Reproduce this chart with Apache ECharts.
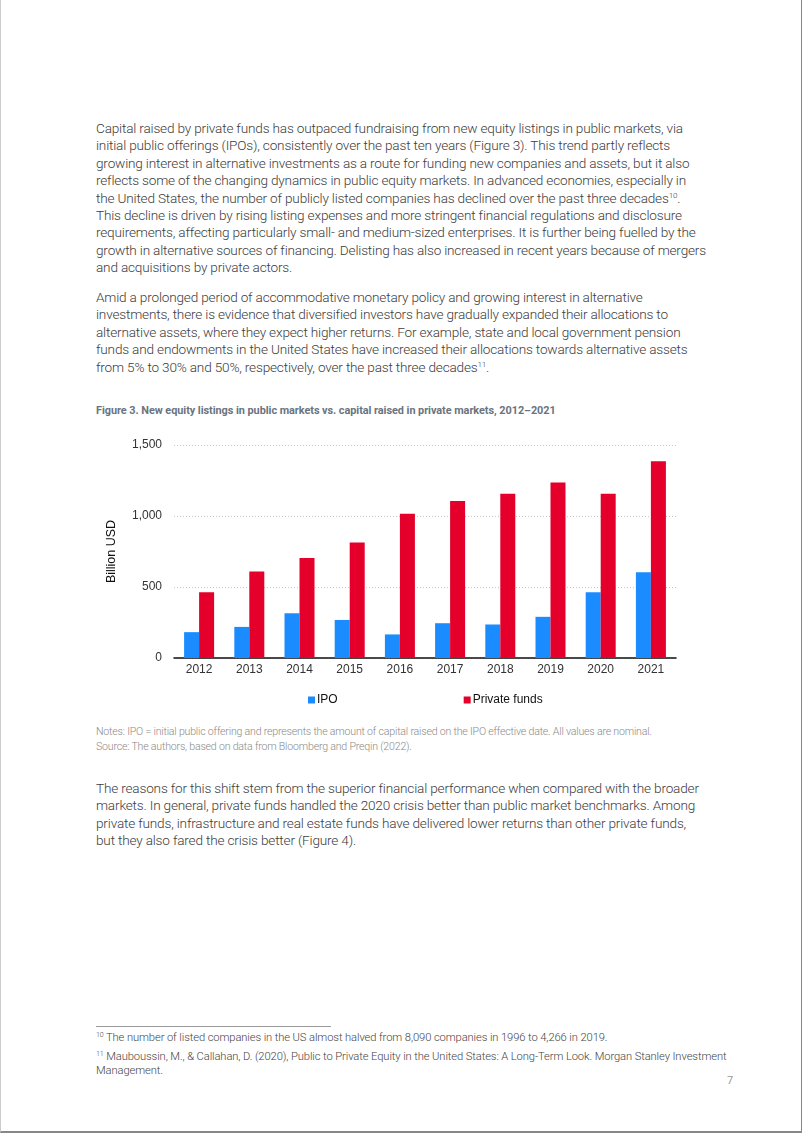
<!DOCTYPE html>
<html>
<head>
<meta charset="utf-8">
<script src="https://cdn.jsdelivr.net/npm/echarts@6/dist/echarts.min.js"></script>
<style>
html,body{margin:0;padding:0;background:#fff;}
#page{position:relative;width:802px;height:1133px;box-sizing:border-box;border-right:1px solid #888;border-bottom:2px solid #888;border-left:1px solid #ccc;overflow:hidden;font-family:Roboto,"Liberation Sans",sans-serif;}
.para{position:absolute;left:95px;color:#3c3c3c;font-size:13.6px;font-weight:300;line-height:17.4px;letter-spacing:-0.18px;white-space:nowrap;}
.para sup{font-size:8px;vertical-align:5px;line-height:0;}
.fig{position:absolute;left:95px;top:404px;font-size:10.9px;font-weight:bold;color:#6a7480;white-space:nowrap;letter-spacing:-0.05px;}
.notes{position:absolute;left:95px;top:724px;font-size:10.6px;font-weight:300;line-height:15px;color:#8a8a8a;white-space:nowrap;letter-spacing:-0.2px;}
.fn{position:absolute;left:95px;font-size:11.2px;font-weight:300;line-height:14px;color:#444;white-space:nowrap;letter-spacing:-0.1px;}
.fn sup{font-size:7px;vertical-align:4px;line-height:0;}
#rule{position:absolute;left:95px;top:1026px;width:235px;height:1px;background:#999;}
#pn{position:absolute;left:726px;top:1074px;font-size:11px;color:#999;}
#chart{position:absolute;left:90px;top:425px;width:620px;height:290px;}
</style>
</head>
<body>
<div id="page">
<div class="para" style="top:120px;">Capital raised by private funds has outpaced fundraising from new equity listings in public markets, via<br>initial public offerings (IPOs), consistently over the past ten years (Figure 3). This trend partly reflects<br>growing interest in alternative investments as a route for funding new companies and assets, but it also<br>reflects some of the changing dynamics in public equity markets. In advanced economies, especially in<br>the United States, the number of publicly listed companies has declined over the past three decades<sup>10</sup>.<br>This decline is driven by rising listing expenses and more stringent financial regulations and disclosure<br>requirements, affecting particularly small- and medium-sized enterprises. It is further being fuelled by the<br>growth in alternative sources of financing. Delisting has also increased in recent years because of mergers<br>and acquisitions by private actors.</div>
<div class="para" style="top:289px;">Amid a prolonged period of accommodative monetary policy and growing interest in alternative<br>investments, there is evidence that diversified investors have gradually expanded their allocations to<br>alternative assets, where they expect higher returns. For example, state and local government pension<br>funds and endowments in the United States have increased their allocations towards alternative assets<br>from 5% to 30% and 50%, respectively, over the past three decades<sup>11</sup>.</div>
<div class="fig">Figure 3. New equity listings in public markets vs. capital raised in private markets, 2012–2021</div>
<div id="chart"></div>
<div class="notes">Notes: IPO = initial public offering and represents the amount of capital raised on the IPO effective date. All values are nominal.<br>Source: The authors, based on data from Bloomberg and Preqin (2022).</div>
<div class="para" style="top:780px;">The reasons for this shift stem from the superior financial performance when compared with the broader<br>markets. In general, private funds handled the 2020 crisis better than public market benchmarks. Among<br>private funds, infrastructure and real estate funds have delivered lower returns than other private funds,<br>but they also fared the crisis better (Figure 4).</div>
<div id="rule"></div>
<div class="fn" style="top:1031px;"><sup>10</sup> The number of listed companies in the US almost halved from 8,090 companies in 1996 to 4,266 in 2019.</div>
<div class="fn" style="top:1050px;"><sup>11</sup> Mauboussin, M., &amp; Callahan, D. (2020), Public to Private Equity in the United States: A Long-Term Look. Morgan Stanley Investment<br>Management.</div>
<div id="pn">7</div>
</div>
<script>
var years = ['2012','2013','2014','2015','2016','2017','2018','2019','2020','2021'];
var ipo = [182, 219, 315, 268, 166, 245, 236, 290, 463, 603];
var privateFunds = [463, 610, 705, 813, 1016, 1105, 1157, 1236, 1157, 1385];
var seriesNames = ['IPO', 'Private funds'];

var chart = echarts.init(document.getElementById('chart'), null, {renderer:'canvas'});
chart.setOption({
  animation:false,
  textStyle:{fontFamily:'"Liberation Sans", Arial, sans-serif'},
  grid:{left:83, right:35, top:20, bottom:57},
  legend:{
    data:seriesNames, left:212, top:264, itemWidth:7, itemHeight:7, itemGap:126,
    icon:'rect', textStyle:{fontSize:12, color:'#111', padding:[0,0,0,-3]}
  },
  xAxis:{
    type:'category', data:years,
    axisLine:{lineStyle:{color:'#111', width:1.5}},
    axisTick:{show:false},
    axisLabel:{fontSize:12, color:'#333', margin:6}
  },
  yAxis:{
    type:'value', min:0, max:1500, interval:500,
    name:'Billion USD', nameLocation:'middle', nameGap:56, nameRotate:90,
    nameTextStyle:{fontSize:12.5, color:'#111'},
    axisLine:{show:false}, axisTick:{show:false},
    axisLabel:{fontSize:12, color:'#333', margin:12, formatter:function(v){return v.toLocaleString('en-US');}},
    splitLine:{lineStyle:{color:'#c8c8c8', type:[1,2], width:1}}
  },
  series:[
    {name:seriesNames[0], type:'bar', data:ipo, barWidth:15, barGap:'0%', itemStyle:{color:'#1a8cff'}},
    {name:seriesNames[1], type:'bar', data:privateFunds, barWidth:15, barGap:'0%', itemStyle:{color:'#e4002b'}}
  ]
});
</script>
</body>
</html>
